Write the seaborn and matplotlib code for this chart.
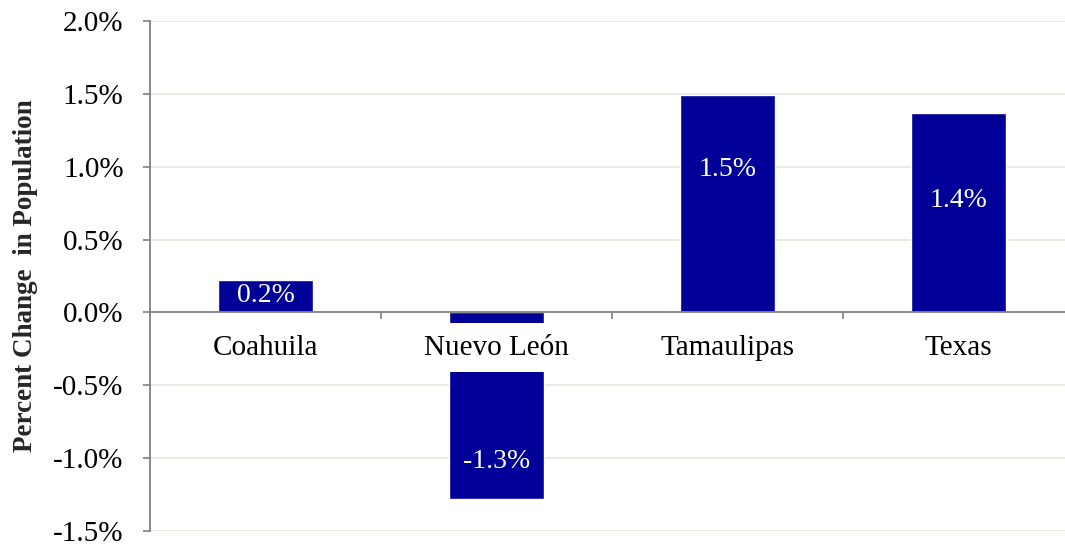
import matplotlib
matplotlib.use("Agg")
import matplotlib.pyplot as plt
import seaborn as sns
import pandas as pd
from matplotlib.ticker import FuncFormatter, FixedLocator

categories = ["Coahuila", "Nuevo León", "Tamaulipas", "Texas"]
values = [0.22, -1.28, 1.49, 1.37]
value_labels = ["0.2%", "-1.3%", "1.5%", "1.4%"]
label_pos = [0.115, -1.02, 0.98, 0.77]
yticks = [-1.5, -1.0, -0.5, 0.0, 0.5, 1.0, 1.5, 2.0]

sns.set_theme(style="white")
plt.rcParams["font.family"] = ["Liberation Serif", "DejaVu Serif"]

df = pd.DataFrame({"state": categories, "pct": values})

fig = plt.figure(figsize=(10.65, 5.46), dpi=100)
ax = fig.add_axes([0.1408, 0.0275, 0.859, 0.934])

sns.barplot(data=df, x="state", y="pct", color="#000099", saturation=1,
            width=0.415, ax=ax, zorder=1)

ax.set_xlim(-0.5, 3.46)
ax.set_ylim(-1.5, 2.0)
ax.set_yticks(yticks)
ax.yaxis.set_major_formatter(FuncFormatter(lambda v, p: f"{v:.1f}%"))
ax.xaxis.set_minor_locator(FixedLocator([0.5, 1.5, 2.5]))

for y in yticks:
    if y != 0:
        ax.axhline(y, color="#E9E5DA", lw=1.2, zorder=0.5)

ax.set_axisbelow(False)
ax.grid(False)
for s in ["top", "right"]:
    ax.spines[s].set_visible(False)
ax.spines["bottom"].set_position(("data", 0))
ax.spines["left"].set_color("#808080")
ax.spines["bottom"].set_color("#808080")
ax.spines["left"].set_linewidth(1.3)
ax.spines["bottom"].set_linewidth(1.3)

ax.tick_params(axis="y", direction="out", length=5, width=1.2, color="#808080",
               pad=14, labelsize=21, labelcolor="black", left=True)
ax.tick_params(axis="x", which="major", length=0, pad=16, labelsize=21,
               labelcolor="black")
ax.tick_params(axis="x", which="minor", direction="out", length=5, width=1.2,
               color="#808080", bottom=True)
for lbl in ax.get_xticklabels():
    lbl.set_bbox(dict(facecolor="white", edgecolor="none", boxstyle="square,pad=0.39"))

ax.set_xlabel("")
ax.set_ylabel("Percent Change  in Population", fontsize=19.5, fontweight="bold",
              labelpad=11)

for i, (txt, yp) in enumerate(zip(value_labels, label_pos)):
    ax.text(i, yp, txt, ha="center", va="center", color="white", fontsize=20, zorder=5)

fig.savefig("out.png", dpi=100)
